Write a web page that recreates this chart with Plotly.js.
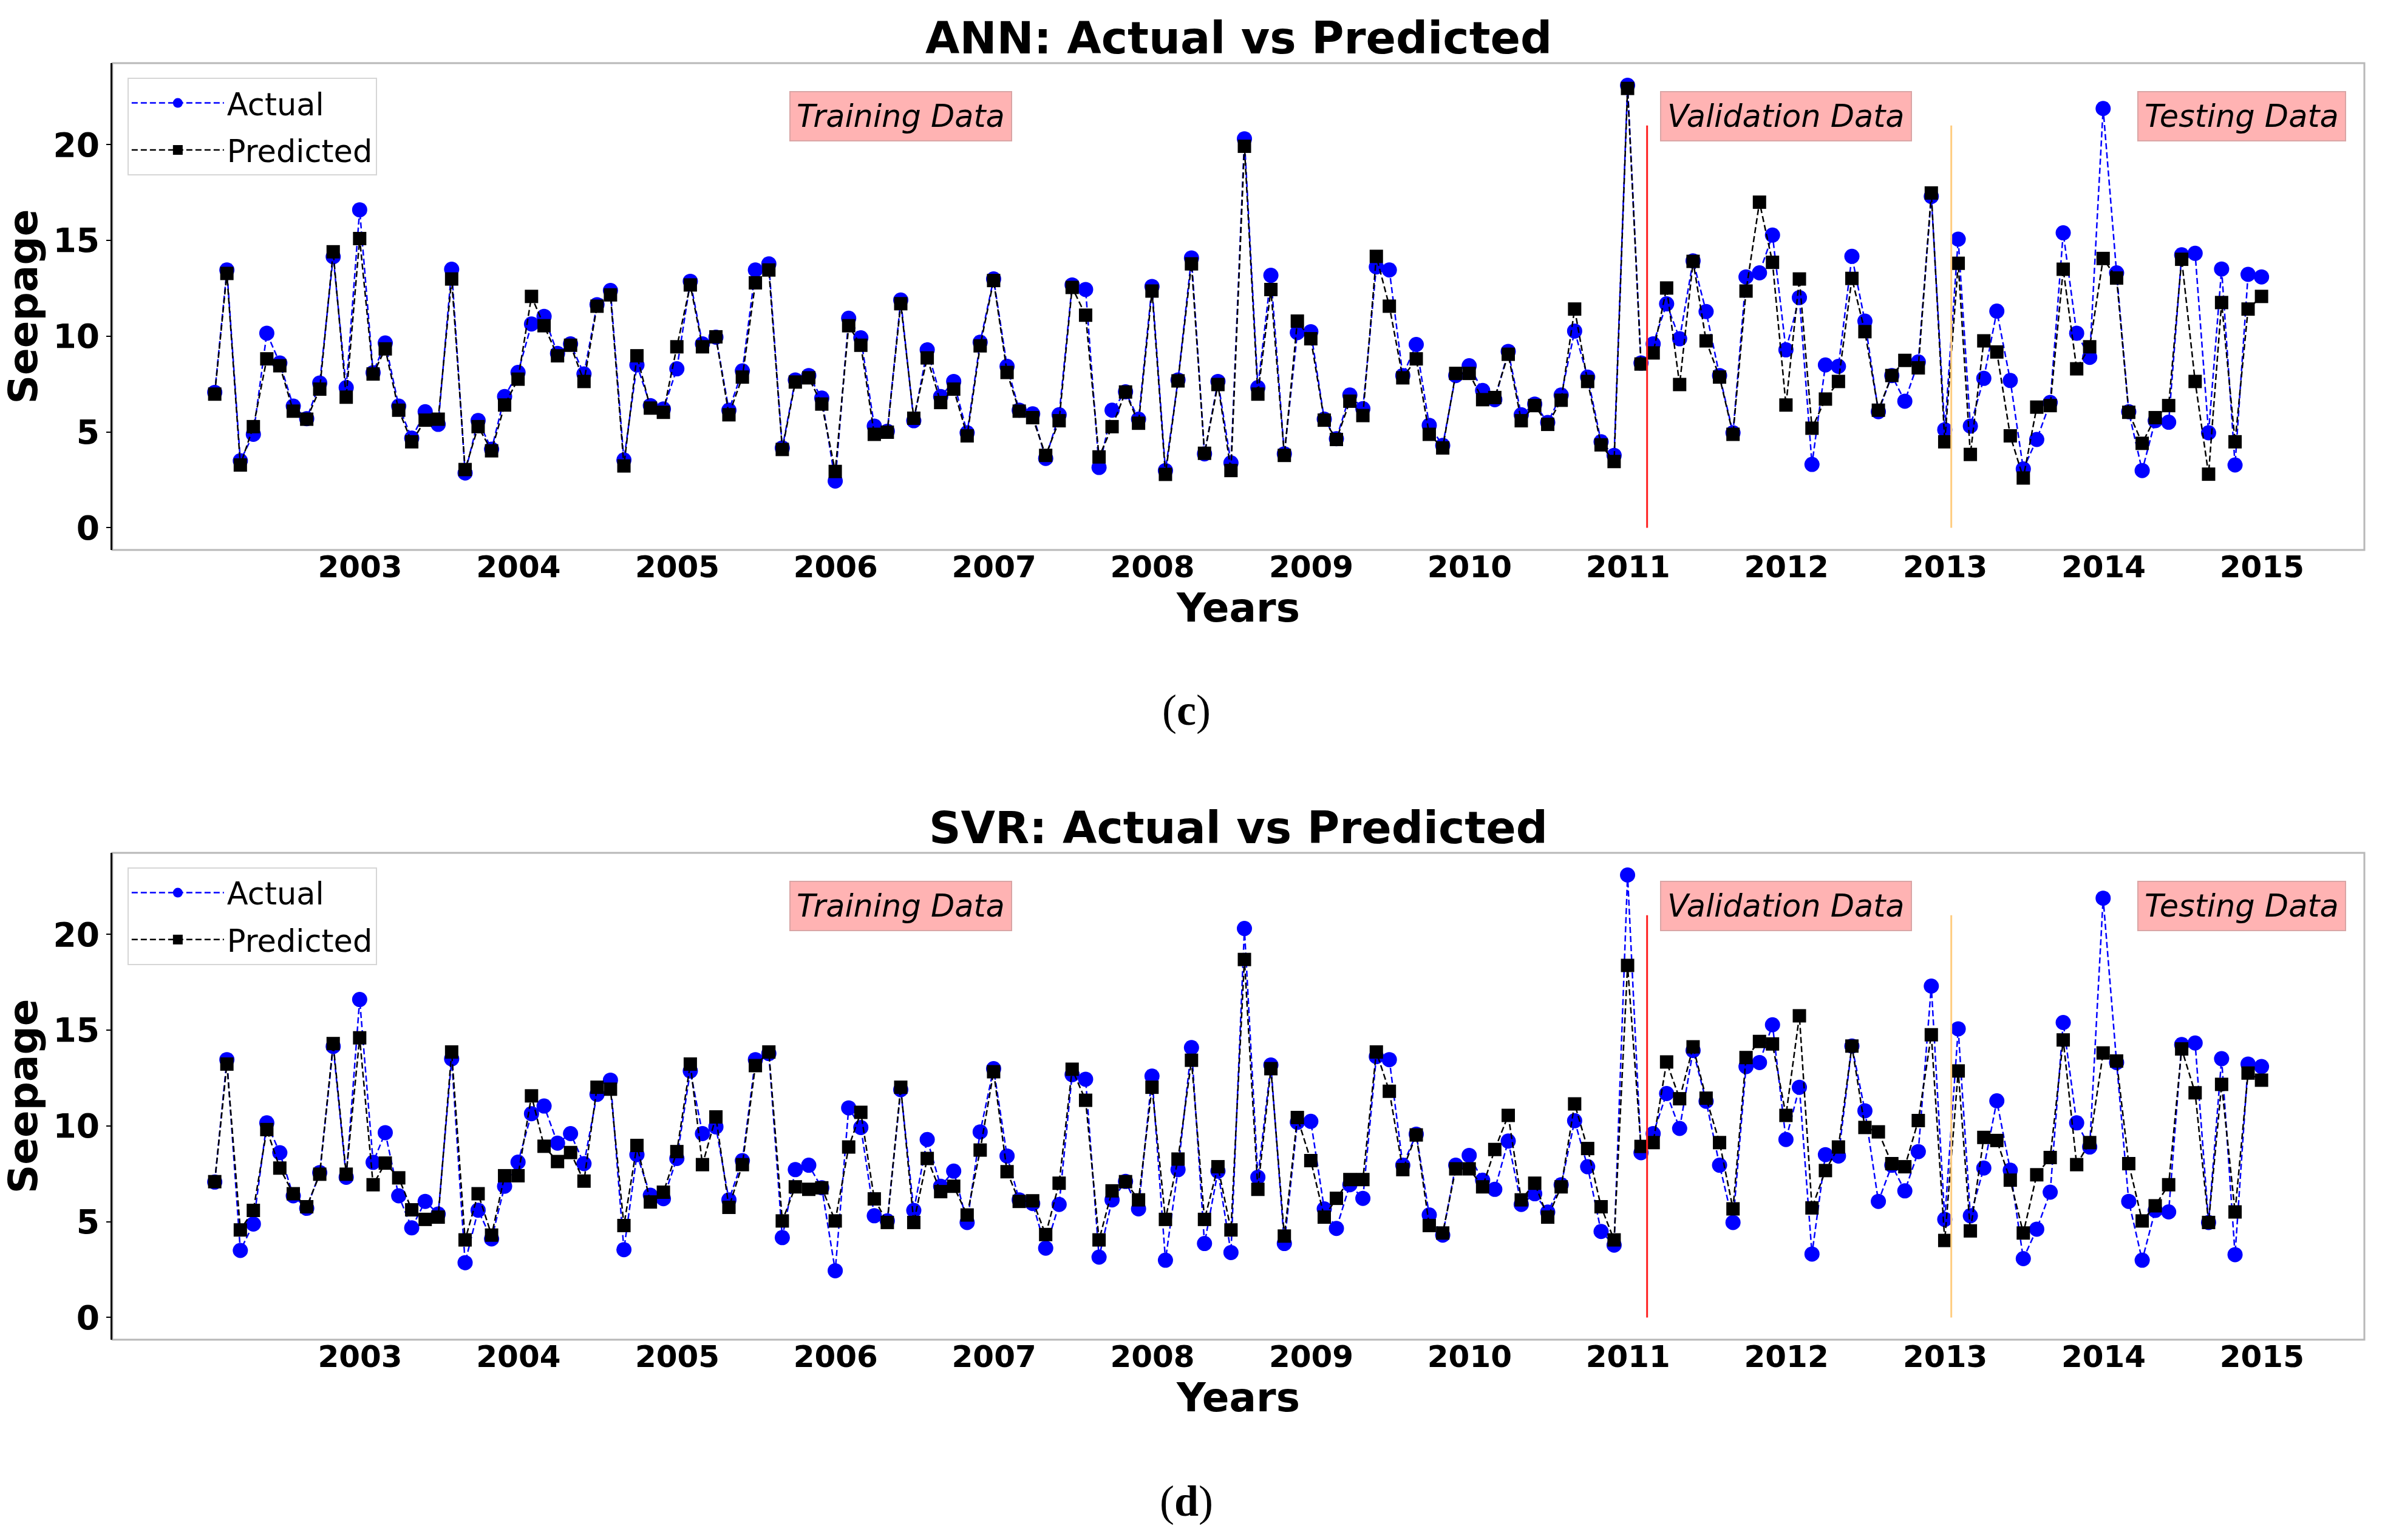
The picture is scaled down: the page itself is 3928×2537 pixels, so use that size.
<!DOCTYPE html>
<html>
<head>
<meta charset="utf-8">
<script src="https://cdn.plot.ly/plotly-3.0.1.min.js"></script>
<style>html,body{margin:0;padding:0;background:#fff;}#chart{width:3928px;height:2537px;}</style>
</head>
<body>
<div id="chart"></div>
<script>
// ---- data (monthly, first month Jan 2002, month-end dates) ----
const startYear = 2002;
const startMonth = 1;
const nMonths = 156;

const actual = [
 7.07, 13.46, 3.5, 4.88, 10.16, 8.6, 6.35, 5.7, 7.56, 14.15,
 7.32, 16.6, 8.1, 9.65, 6.35, 4.68, 6.06, 5.4, 13.5, 2.86,
 5.6, 4.1, 6.85, 8.11, 10.64, 11.04, 9.1, 9.6, 8.03, 11.65,
 12.39, 3.54, 8.5, 6.38, 6.2, 8.3, 12.87, 9.6, 9.95, 6.14,
 8.19, 13.46, 13.78, 4.17, 7.72, 7.95, 6.77, 2.44, 10.94, 9.92,
 5.31, 5.04, 11.89, 5.59, 9.29, 6.85, 7.64, 4.96, 9.69, 12.99,
 8.43, 6.14, 5.95, 3.62, 5.9, 12.68, 12.44, 3.15, 6.14, 7.1,
 5.67, 12.6, 2.99, 7.72, 14.09, 3.86, 7.64, 3.39, 20.31, 7.32,
 13.18, 3.86, 10.19, 10.24, 5.67, 4.65, 6.93, 6.22, 13.62, 13.46,
 7.95, 9.57, 5.35, 4.3, 7.95, 8.46, 7.17, 6.69, 9.21, 5.9,
 6.46, 5.5, 6.93, 10.27, 7.87, 4.49, 3.78, 23.1, 8.6, 9.6,
 11.69, 9.87, 13.94, 11.29, 7.95, 4.96, 13.1, 13.31, 15.28, 9.29,
 12.02, 3.31, 8.5, 8.43, 14.17, 10.79, 6.06, 7.95, 6.61, 8.66,
 17.3, 5.12, 15.07, 5.31, 7.8, 11.31, 7.69, 3.07, 4.61, 6.54,
 15.4, 10.16, 8.9, 21.89, 13.31, 6.06, 2.99, 5.59, 5.51, 14.25,
 14.33, 4.96, 13.51, 3.28, 13.23, 13.1
];

const annPredicted = [
 6.98, 13.28, 3.28, 5.28, 8.82, 8.46, 6.09, 5.67, 7.24, 14.41,
 6.82, 15.1, 8.03, 9.34, 6.14, 4.49, 5.62, 5.67, 12.99, 3.04,
 5.28, 4.02, 6.41, 7.76, 12.08, 10.55, 8.98, 9.53, 7.64, 11.57,
 12.16, 3.23, 8.98, 6.25, 6.03, 9.45, 12.68, 9.45, 9.97, 5.9,
 7.87, 12.79, 13.46, 4.09, 7.61, 7.83, 6.46, 2.94, 10.55, 9.53,
 4.88, 4.99, 11.7, 5.72, 8.87, 6.54, 7.24, 4.8, 9.5, 12.91,
 8.11, 6.09, 5.75, 3.78, 5.59, 12.55, 11.1, 3.7, 5.28, 7.09,
 5.46, 12.36, 2.79, 7.67, 13.78, 3.89, 7.48, 2.99, 19.92, 6.98,
 12.44, 3.78, 10.79, 9.87, 5.62, 4.61, 6.61, 5.86, 14.17, 11.57,
 7.83, 8.82, 4.88, 4.17, 8.06, 8.06, 6.69, 6.8, 9.06, 5.59,
 6.38, 5.4, 6.66, 11.42, 7.64, 4.33, 3.46, 22.94, 8.55, 9.13,
 12.52, 7.48, 13.91, 9.76, 7.87, 4.88, 12.36, 17.0, 13.86, 6.41,
 12.99, 5.2, 6.72, 7.64, 13.02, 10.24, 6.14, 7.95, 8.74, 8.35,
 17.48, 4.49, 13.81, 3.83, 9.76, 9.18, 4.8, 2.6, 6.3, 6.38,
 13.5, 8.3, 9.45, 14.06, 13.04, 6.03, 4.41, 5.75, 6.38, 14.02,
 7.64, 2.8, 11.76, 4.49, 11.42, 12.08
];

const svrPredicted = [
 7.09, 13.23, 4.57, 5.59, 9.81, 7.8, 6.46, 5.78, 7.48, 14.3,
 7.48, 14.6, 6.93, 8.06, 7.29, 5.62, 5.12, 5.24, 13.86, 4.05,
 6.46, 4.3, 7.4, 7.4, 11.57, 8.94, 8.14, 8.61, 7.12, 12.02,
 11.92, 4.8, 8.98, 6.03, 6.54, 8.66, 13.23, 7.98, 10.47, 5.75,
 7.98, 13.15, 13.86, 5.04, 6.82, 6.69, 6.77, 5.04, 8.9, 10.71,
 6.19, 4.96, 12.02, 4.96, 8.3, 6.57, 6.85, 5.35, 8.74, 12.83,
 7.61, 6.06, 6.09, 4.33, 7.01, 12.96, 11.34, 4.05, 6.61, 7.09,
 6.14, 12.02, 5.12, 8.27, 13.43, 5.12, 7.87, 4.57, 18.69, 6.69,
 12.99, 4.25, 10.44, 8.19, 5.24, 6.22, 7.2, 7.2, 13.86, 11.81,
 7.72, 9.53, 4.8, 4.41, 7.76, 7.76, 6.82, 8.77, 10.55, 6.14,
 7.01, 5.24, 6.82, 11.15, 8.82, 5.78, 4.05, 18.38, 8.93, 9.13,
 13.34, 11.42, 14.13, 11.45, 9.13, 5.67, 13.57, 14.41, 14.28, 10.55,
 15.75, 5.72, 7.67, 8.9, 14.17, 9.92, 9.69, 8.03, 7.87, 10.28,
 14.76, 4.02, 12.87, 4.52, 9.4, 9.24, 7.17, 4.41, 7.45, 8.35,
 14.49, 7.98, 9.13, 13.81, 13.39, 8.03, 5.04, 5.83, 6.93, 14.02,
 11.73, 4.96, 12.17, 5.51, 12.76, 12.39
];

const tickYears = ['2003','2004','2005','2006','2007','2008','2009','2010','2011','2012','2013','2014','2015'];
const yTicks = [0, 5, 10, 15, 20];
const validationStart = '2011-02-14';
const testingStart = '2013-01-15';
const splitLineTop = 21;
const regionLabels = ['Training Data', 'Validation Data', 'Testing Data'];
const regionLabelX = ['2006-05-31', '2011-12-31', '2014-11-15'];
const regionLabelY = 21.5;
const panelTitles = ['ANN: Actual vs Predicted', 'SVR: Actual vs Predicted'];
const captions = ['(<b>c</b>)', '(<b>d</b>)'];

// ---- dates ----
function pad(n){ return (n < 10 ? '0' : '') + n; }
const dates = [];
for (let k = 0; k < nMonths; k++) {
  const d = new Date(Date.UTC(startYear, startMonth - 1 + k + 1, 0));
  dates.push(d.getUTCFullYear() + '-' + pad(d.getUTCMonth() + 1) + '-' + pad(d.getUTCDate()));
}

const FONT = 'DejaVu Sans, Verdana, sans-serif';
const lineW = 2.5;
const dashPat = '10px,5px';

function seriesPair(pred, xa, ya, leg) {
  return [
    { x: dates, y: actual, xaxis: xa, yaxis: ya, legend: leg, legendgroup: leg + 'a', name: 'Actual', type: 'scatter', mode: 'lines+markers',
      line: { color: '#0000ff', width: lineW, dash: dashPat },
      marker: { symbol: 'circle', size: 25, color: '#0000ff' } },
    { x: dates, y: pred, xaxis: xa, yaxis: ya, legend: leg, legendgroup: leg + 'p', name: 'Predicted', type: 'scatter', mode: 'lines+markers',
      line: { color: '#000000', width: lineW, dash: dashPat },
      marker: { symbol: 'square', size: 22, color: '#000000' } }
  ];
}

const traces = [].concat(
  seriesPair(annPredicted, 'x', 'y', 'legend'),
  seriesPair(svrPredicted, 'x2', 'y2', 'legend2')
);

const xRange = ['2001-06-09', '2015-08-25'];
const yRange = [-1.16, 24.26];

function xAxis(anchor) {
  return {
    anchor: anchor, domain: [0, 1], type: 'date', range: xRange,
    tickvals: tickYears.map(y => y + '-01-01'), ticktext: tickYears,
    tickfont: { family: FONT, size: 50, color: '#000', weight: 'bold' },
    ticks: '', ticklabelstandoff: -6,
    showline: false, showgrid: false, zeroline: false,
    title: { text: '<b>Years</b>', font: { family: FONT, size: 66, color: '#000' }, standoff: 2 }
  };
}
function yAxis(anchor, domain) {
  return {
    anchor: anchor, domain: domain, range: yRange,
    tickvals: yTicks, ticktext: yTicks.map(String),
    tickfont: { family: FONT, size: 55, color: '#000', weight: 'bold' },
    ticks: 'outside', ticklen: 7, tickwidth: 2, tickcolor: '#000',
    showline: true, linecolor: '#000', linewidth: 3,
    showgrid: false, zeroline: false,
    title: { text: '<b>Seepage</b>', font: { family: FONT, size: 66, color: '#000' }, standoff: 8 }
  };
}

const shapes = [];
const annotations = [];
[['x','y'],['x2','y2']].forEach((ax, p) => {
  shapes.push({ type: 'rect', xref: ax[0] + ' domain', yref: ax[1] + ' domain', x0: 0, x1: 1, y0: 0, y1: 1,
    line: { color: '#b8b8b8', width: 3 }, fillcolor: 'rgba(0,0,0,0)', layer: 'below' });
  shapes.push({ type: 'line', xref: ax[0], yref: ax[1], x0: validationStart, x1: validationStart, y0: 0, y1: splitLineTop,
    line: { color: '#ff2020', width: 3 } });
  shapes.push({ type: 'line', xref: ax[0], yref: ax[1], x0: testingStart, x1: testingStart, y0: 0, y1: splitLineTop,
    line: { color: '#ffcc80', width: 3 } });
  regionLabels.forEach((t, i) => {
    annotations.push({ xref: ax[0], yref: ax[1], x: regionLabelX[i], y: regionLabelY, text: '<i>' + t + '</i>',
      showarrow: false, xanchor: 'center', yanchor: 'middle',
      font: { family: FONT, size: 51, color: '#000' },
      bgcolor: '#ffb3b3', bordercolor: '#d9a5a5', borderwidth: 2, borderpad: 10 });
  });
});

const titleY = [1.0195, 0.4009];
const captionY = [0.4931, -0.1265];
panelTitles.forEach((t, p) => {
  annotations.push({ xref: 'paper', yref: 'paper', x: 0.5, y: titleY[p], text: '<b>' + t + '</b>', showarrow: false,
    xanchor: 'center', yanchor: 'middle', font: { family: FONT, size: 73, color: '#000' } });
  annotations.push({ xref: 'paper', yref: 'paper', x: 0.477, y: captionY[p], text: captions[p], showarrow: false,
    xanchor: 'center', yanchor: 'middle', font: { family: 'Liberation Serif, Times New Roman, serif', size: 72, color: '#000' } });
});

const legendBase = {
  x: 0.0067, xanchor: 'left', yanchor: 'top', bgcolor: '#ffffff', bordercolor: '#d6d6d6', borderwidth: 2,
  font: { family: FONT, size: 51, color: '#000' }, itemwidth: 152, tracegroupgap: 8, traceorder: 'grouped'
};

const layout = {
  width: 3928, height: 2537,
  paper_bgcolor: '#ffffff', plot_bgcolor: '#ffffff',
  margin: { l: 185, r: 34, t: 104, b: 330, pad: 0 },
  showlegend: true,
  xaxis: xAxis('y'),
  yaxis: yAxis('x', [0.6186, 1]),
  xaxis2: xAxis('y2'),
  yaxis2: yAxis('x2', [0, 0.3814]),
  legend: Object.assign({}, legendBase, { y: 0.9886 }),
  legend2: Object.assign({}, legendBase, { y: 0.370 }),
  shapes: shapes,
  annotations: annotations
};

Plotly.newPlot('chart', traces, layout, { staticPlot: true, displayModeBar: false });
</script>
</body>
</html>
